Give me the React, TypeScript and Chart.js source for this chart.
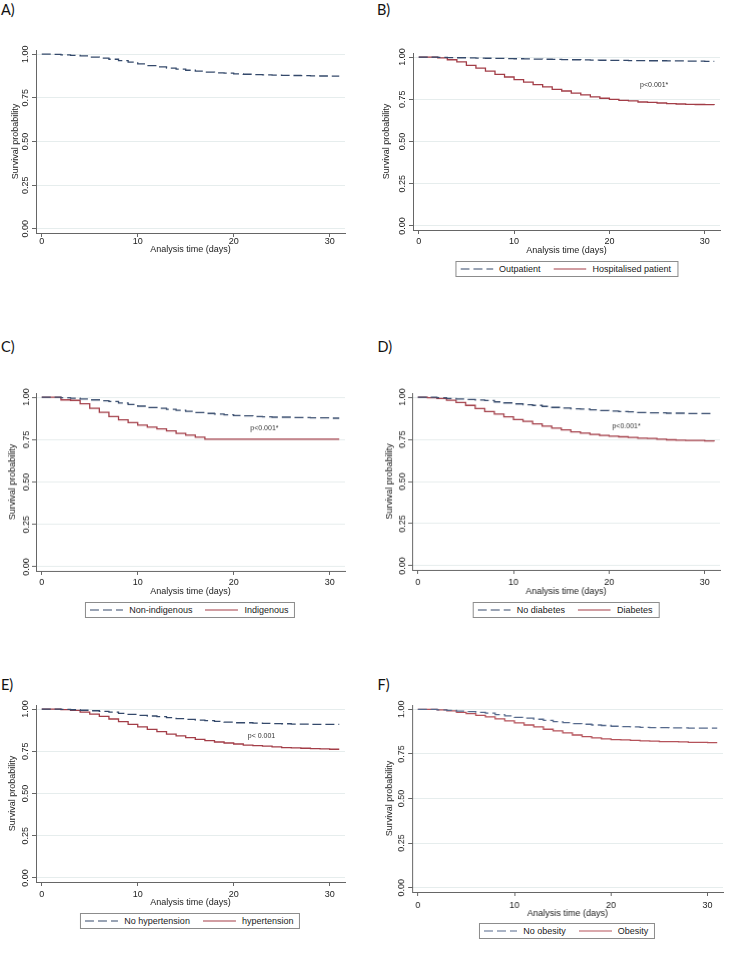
import React, { useEffect, useRef } from "react";
import { Chart, registerables } from "chart.js";

Chart.register(...registerables);

// ---------------- DATA ----------------
const days = [0, 1, 2, 3, 4, 5, 6, 7, 8, 9, 10, 11, 12, 13, 14, 15, 16, 17, 18, 19, 20, 21, 22, 23, 24, 25, 26, 27, 28, 29, 30, 31];
const xTickValues = [0, 10, 20, 30];
const yTickValues = [0, 0.25, 0.5, 0.75, 1];
const yTickLabels = ["0.00", "0.25", "0.50", "0.75", "1.00"];
const xAxisTitle = "Analysis time (days)";
const yAxisTitle = "Survival probability";
const panelLabels = ["A)", "B)", "C)", "D)", "E)", "F)"];

const overallSurvival = [1.0, 0.999, 0.996, 0.993, 0.99, 0.983, 0.977, 0.971, 0.963, 0.954, 0.944, 0.935, 0.927, 0.92, 0.914, 0.908, 0.903, 0.897, 0.893, 0.891, 0.887, 0.885, 0.883, 0.882, 0.88, 0.879, 0.878, 0.877, 0.876, 0.875, 0.874, 0.874];

const outpatientSurvival = [1.0, 0.999, 0.998, 0.997, 0.996, 0.995, 0.994, 0.993, 0.992, 0.991, 0.99, 0.989, 0.988, 0.987, 0.986, 0.985, 0.984, 0.983, 0.982, 0.981, 0.98, 0.98, 0.979, 0.979, 0.978, 0.978, 0.977, 0.977, 0.976, 0.976, 0.975, 0.975];
const hospitalisedSurvival = [1.0, 1.0, 0.995, 0.984, 0.972, 0.951, 0.935, 0.917, 0.898, 0.882, 0.866, 0.852, 0.837, 0.823, 0.809, 0.799, 0.787, 0.776, 0.764, 0.756, 0.75, 0.744, 0.74, 0.734, 0.732, 0.728, 0.724, 0.722, 0.72, 0.719, 0.718, 0.717];

const nonIndigenousSurvival = [1.0, 0.999, 0.997, 0.994, 0.989, 0.984, 0.979, 0.974, 0.965, 0.957, 0.947, 0.939, 0.935, 0.929, 0.923, 0.917, 0.909, 0.904, 0.9, 0.896, 0.892, 0.89, 0.886, 0.884, 0.882, 0.882, 0.88, 0.88, 0.878, 0.878, 0.876, 0.876];
const indigenousSurvival = [1.0, 1.0, 0.984, 0.981, 0.961, 0.935, 0.911, 0.886, 0.866, 0.85, 0.835, 0.823, 0.813, 0.801, 0.787, 0.776, 0.764, 0.752, 0.752, 0.752, 0.752, 0.752, 0.752, 0.752, 0.752, 0.752, 0.752, 0.752, 0.752, 0.752, 0.752, 0.752];

const noDiabetesSurvival = [1.0, 0.999, 0.996, 0.992, 0.989, 0.986, 0.983, 0.98, 0.972, 0.966, 0.96, 0.955, 0.951, 0.945, 0.939, 0.935, 0.931, 0.929, 0.925, 0.921, 0.917, 0.915, 0.913, 0.909, 0.907, 0.907, 0.905, 0.905, 0.903, 0.903, 0.903, 0.903];
const diabetesSurvival = [1.0, 0.997, 0.992, 0.982, 0.968, 0.951, 0.933, 0.915, 0.9, 0.883, 0.867, 0.856, 0.842, 0.828, 0.816, 0.806, 0.794, 0.786, 0.779, 0.773, 0.769, 0.765, 0.761, 0.757, 0.755, 0.751, 0.747, 0.745, 0.743, 0.743, 0.741, 0.739];

const noHypertensionSurvival = [1.0, 0.999, 0.998, 0.996, 0.993, 0.99, 0.986, 0.982, 0.974, 0.969, 0.963, 0.959, 0.955, 0.949, 0.943, 0.939, 0.935, 0.931, 0.927, 0.923, 0.919, 0.919, 0.917, 0.915, 0.914, 0.913, 0.911, 0.911, 0.909, 0.909, 0.909, 0.909];
const hypertensionSurvival = [1.0, 0.999, 0.997, 0.992, 0.982, 0.97, 0.957, 0.941, 0.925, 0.909, 0.894, 0.88, 0.866, 0.852, 0.841, 0.831, 0.821, 0.813, 0.805, 0.799, 0.793, 0.787, 0.783, 0.78, 0.776, 0.772, 0.77, 0.768, 0.766, 0.764, 0.762, 0.762];

const noObesitySurvival = [1.0, 0.999, 0.997, 0.994, 0.99, 0.987, 0.983, 0.979, 0.97, 0.963, 0.955, 0.95, 0.944, 0.938, 0.931, 0.925, 0.92, 0.916, 0.912, 0.909, 0.905, 0.903, 0.901, 0.899, 0.897, 0.897, 0.896, 0.896, 0.894, 0.894, 0.894, 0.894];
const obesitySurvival = [1.0, 0.999, 0.997, 0.991, 0.983, 0.976, 0.966, 0.957, 0.946, 0.935, 0.924, 0.912, 0.901, 0.888, 0.879, 0.868, 0.856, 0.847, 0.84, 0.834, 0.83, 0.828, 0.826, 0.823, 0.821, 0.819, 0.819, 0.817, 0.815, 0.815, 0.813, 0.813];

const pValueTexts = ["", "p<0.001*", "p<0.001*", "p<0.001*", "p< 0.001", ""];
const pValueX = [0, 24.7, 23.2, 21.8, 22.9, 0];
const pValueY = [0, 0.833, 0.817, 0.83, 0.84, 0];

// ---------------- STYLE / LAYOUT ----------------
const FONT = '"Liberation Sans", Arial, sans-serif';
const BLUE = "#34496b";
const RED = "#a33d47";
const Y_AXIS_W = 34;
const X_AXIS_H = 26;
const PAD_TOP = 12;
const PAD_RIGHT = 3;

type Series = { name: string; values: number[]; color: string; dashed: boolean };

const panelSeries: Series[][] = [
  [{ name: "", values: overallSurvival, color: BLUE, dashed: true }],
  [
    { name: "Outpatient", values: outpatientSurvival, color: BLUE, dashed: true },
    { name: "Hospitalised patient", values: hospitalisedSurvival, color: RED, dashed: false },
  ],
  [
    { name: "Non-indigenous", values: nonIndigenousSurvival, color: BLUE, dashed: true },
    { name: "Indigenous", values: indigenousSurvival, color: RED, dashed: false },
  ],
  [
    { name: "No diabetes", values: noDiabetesSurvival, color: BLUE, dashed: true },
    { name: "Diabetes", values: diabetesSurvival, color: RED, dashed: false },
  ],
  [
    { name: "No hypertension", values: noHypertensionSurvival, color: BLUE, dashed: true },
    { name: "hypertension", values: hypertensionSurvival, color: RED, dashed: false },
  ],
  [
    { name: "No obesity", values: noObesitySurvival, color: "#55698c", dashed: true },
    { name: "Obesity", values: obesitySurvival, color: "#b5525a", dashed: false },
  ],
];

type Layout = {
  label: { x: number; y: number };
  plot: { left: number; top: number; width: number; height: number };
  yLabelGap: number;
  yTitleGap: number;
  xLabelGap: number;
  xTitleGap: number;
  legendTop: number | null;
};

const layouts: Layout[] = [
  { label: { x: 1, y: 2.6 }, plot: { left: 36, top: 49.8, width: 309.4, height: 183.4 }, yLabelGap: 10.7, yTitleGap: 20, xLabelGap: 9, xTitleGap: 16.5, legendTop: null },
  { label: { x: 377, y: 2.6 }, plot: { left: 412.7, top: 52.6, width: 307.7, height: 177.4 }, yLabelGap: 10.7, yTitleGap: 26, xLabelGap: 11.7, xTitleGap: 20.7, legendTop: 260.7 },
  { label: { x: 1, y: 340.3 }, plot: { left: 35.7, top: 393.2, width: 309.4, height: 177.5 }, yLabelGap: 9.5, yTitleGap: 23, xLabelGap: 12, xTitleGap: 20.5, legendTop: 601.7 },
  { label: { x: 377.5, y: 340.3 }, plot: { left: 412.3, top: 393.3, width: 307.7, height: 176.7 }, yLabelGap: 9.5, yTitleGap: 22, xLabelGap: 13, xTitleGap: 21.5, legendTop: 601.7 },
  { label: { x: 1, y: 677.6 }, plot: { left: 35.7, top: 704.9, width: 309.4, height: 177.5 }, yLabelGap: 10.7, yTitleGap: 23, xLabelGap: 13, xTitleGap: 21, legendTop: 912.7 },
  { label: { x: 377.5, y: 677.6 }, plot: { left: 412, top: 704.7, width: 310.5, height: 187.2 }, yLabelGap: 10, yTitleGap: 22.7, xLabelGap: 14, xTitleGap: 21.4, legendTop: 923.3 },
];

const pValuePlugin = {
  id: "pvalue",
  afterDatasetsDraw(chart: any, _args: any, opts: any) {
    if (!opts || !opts.text) return;
    const { ctx, scales } = chart;
    ctx.save();
    ctx.font = `7px ${FONT}`;
    ctx.fillStyle = "#333";
    ctx.textAlign = "center";
    ctx.textBaseline = "middle";
    ctx.fillText(opts.text, scales.x.getPixelForValue(opts.x), scales.y.getPixelForValue(opts.y));
    ctx.restore();
  },
};

function KMPanel({ index }: { index: number }) {
  const ref = useRef<HTMLCanvasElement | null>(null);
  const lay = layouts[index];
  const series = panelSeries[index];
  const cw = lay.plot.width + Y_AXIS_W + PAD_RIGHT;
  const ch = lay.plot.height + PAD_TOP + X_AXIS_H;

  useEffect(() => {
    if (!ref.current) return;
    const font = { family: FONT, size: 9 };
    const chart = new Chart(ref.current, {
      type: "line",
      data: {
        datasets: series.map((s) => ({
          label: s.name,
          data: days.map((d, i) => ({ x: d, y: s.values[i] })),
          borderColor: s.color,
          borderWidth: 1.3,
          borderDash: s.dashed ? [9, 4] : [],
          pointRadius: 0,
          stepped: true,
          fill: false,
        })),
      },
      options: {
        animation: false,
        responsive: false,
        maintainAspectRatio: false,
        events: [],
        layout: { padding: { top: PAD_TOP, right: PAD_RIGHT, left: 0, bottom: 0 } },
        plugins: {
          legend: { display: false },
          tooltip: { enabled: false },
          pvalue: { text: pValueTexts[index], x: pValueX[index], y: pValueY[index] },
        } as any,
        scales: {
          x: {
            type: "linear",
            min: -0.6,
            max: 31.6,
            afterBuildTicks: (s: any) => {
              s.ticks = xTickValues.map((v) => ({ value: v }));
            },
            afterFit: (s: any) => {
              s.height = X_AXIS_H;
            },
            ticks: {
              font,
              color: "#222",
              padding: lay.xLabelGap - 9.4,
              minRotation: 0,
              maxRotation: 0,
              autoSkip: false,
              callback: (v: any) => String(v),
            },
            grid: { drawOnChartArea: false, drawTicks: true, tickLength: 4, tickColor: "#666" },
            border: { color: "#666", width: 1 },
            title: {
              display: true,
              text: xAxisTitle,
              font,
              color: "#222",
              padding: { top: 0, bottom: X_AXIS_H - 5.4 - lay.xTitleGap },
            },
          },
          y: {
            type: "linear",
            min: -0.024,
            max: 1.024,
            afterBuildTicks: (s: any) => {
              s.ticks = yTickValues.map((v) => ({ value: v }));
            },
            afterFit: (s: any) => {
              s.width = Y_AXIS_W;
            },
            ticks: {
              font,
              color: "#222",
              padding: lay.yLabelGap - 4 - 8.76,
              minRotation: 90,
              maxRotation: 90,
              crossAlign: "center",
              autoSkip: false,
              callback: (_v: any, i: number) => yTickLabels[i],
            },
            grid: { color: "#e6eded", lineWidth: 1, drawTicks: true, tickLength: 4, tickColor: "#666" },
            border: { color: "#666", width: 1 },
            title: {
              display: true,
              text: yAxisTitle,
              font,
              color: "#222",
              padding: { top: Y_AXIS_W - 5.4 - lay.yTitleGap, bottom: 0 },
            },
          },
        },
      },
      plugins: [pValuePlugin],
    } as any);
    return () => chart.destroy();
  }, [index]);

  const legendCenter = lay.plot.left + lay.plot.width / 2;

  return (
    <>
      <div
        style={{
          position: "absolute",
          left: lay.label.x,
          top: lay.label.y,
          font: '14.5px Lato, "Open Sans", sans-serif',
          lineHeight: "14.5px",
          color: "#111",
        }}
      >
        {panelLabels[index]}
      </div>
      <canvas
        ref={ref}
        width={cw}
        height={ch}
        style={{
          position: "absolute",
          left: lay.plot.left - Y_AXIS_W,
          top: lay.plot.top - PAD_TOP,
          width: cw,
          height: ch,
        }}
      />
      {lay.legendTop !== null && (
        <div
          style={{
            position: "absolute",
            left: legendCenter,
            top: lay.legendTop,
            transform: "translateX(-50%)",
            height: 14,
            border: "1px solid #8c8c8c",
            background: "#fff",
            display: "flex",
            alignItems: "center",
            padding: "0 6px 0 4px",
            font: `9px ${FONT}`,
            color: "#222",
            whiteSpace: "nowrap",
          }}
        >
          {series.map((s, i) => (
            <span key={i} style={{ display: "flex", alignItems: "center", marginLeft: i === 0 ? 0 : 13 }}>
              <svg width={33} height={4} style={{ display: "block" }}>
                <line
                  x1={0}
                  y1={2}
                  x2={33}
                  y2={2}
                  stroke={s.color}
                  strokeWidth={1.2}
                  strokeDasharray={s.dashed ? "9 4" : undefined}
                />
              </svg>
              <span style={{ marginLeft: 6 }}>{s.name}</span>
            </span>
          ))}
        </div>
      )}
    </>
  );
}

export default function App() {
  return (
    <div
      style={{
        position: "absolute",
        left: 0,
        top: 0,
        width: 733,
        height: 953,
        background: "#fff",
        overflow: "hidden",
      }}
    >
      {layouts.map((_, i) => (
        <KMPanel key={i} index={i} />
      ))}
    </div>
  );
}
